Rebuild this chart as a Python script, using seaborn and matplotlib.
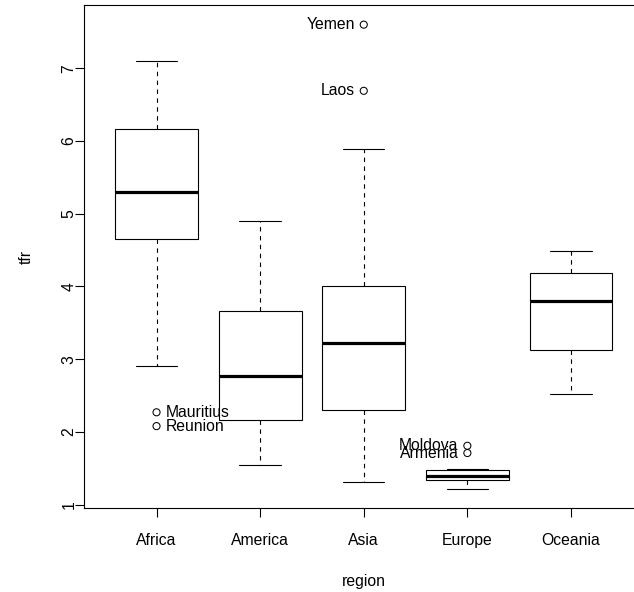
import numpy as np
import pandas as pd
import matplotlib
matplotlib.use("Agg")
import matplotlib.pyplot as plt
import seaborn as sns

regions = ["Africa", "America", "Asia", "Europe", "Oceania"]
# five-number summaries:
# lower whisker, Q1, median, Q3, upper whisker
africa = [2.91, 4.65, 5.30, 6.17, 7.10]
america = [1.55, 2.16, 2.77, 3.66, 4.90]
asia = [1.31, 2.30, 3.22, 4.00, 5.89]
europe = [1.22, 1.34, 1.39, 1.48, 1.49]
oceania = [2.52, 3.12, 3.80, 4.19, 4.49]

# labelled outliers
out_names = ["Mauritius", "Reunion", "Yemen", "Laos", "Moldova", "Armenia"]
out_region = ["Africa", "Africa", "Asia", "Asia", "Europe", "Europe"]
out_tfr = [2.27, 2.08, 7.60, 6.69, 1.81, 1.71]
out_side = ["right", "right", "left", "left", "left", "left"]

summ = {"Africa": africa, "America": america, "Asia": asia,
        "Europe": europe, "Oceania": oceania}
df = pd.DataFrame([{"region": r, "tfr": v} for r in regions for v in summ[r]])

sns.set_theme(style="ticks")
plt.rcParams["font.family"] = ["Liberation Sans", "DejaVu Sans"]
plt.rcParams["text.color"] = "black"
plt.rcParams["axes.labelcolor"] = "black"
plt.rcParams["xtick.color"] = "black"
plt.rcParams["ytick.color"] = "black"
fs = 11.3

fig = plt.figure(figsize=(6.34, 5.92), dpi=100)
# plot region runs past the right edge, as in the original (cropped) picture
ax = fig.add_axes([84 / 634, 1 - 508.3 / 592, (643.5 - 84) / 634, (508.3 - 5) / 592])

sns.boxplot(data=df, x="region", y="tfr", order=regions, whis=(0, 100),
            width=0.8, color="white", linecolor="black", linewidth=0.8,
            fliersize=0,
            medianprops=dict(linewidth=2.3, color="black"),
            whiskerprops=dict(linestyle=(0, (4, 4))),
            ax=ax)

pos = [regions.index(r) for r in out_region]
sns.scatterplot(x=pos, y=out_tfr, marker="o", s=26, facecolor="none",
                edgecolor="black", linewidth=0.75, ax=ax, zorder=5)
for p, v, name, side in zip(pos, out_tfr, out_names, out_side):
    if side == "left":
        ax.text(p - 0.085, v, name, ha="right", va="center", fontsize=fs, color="black")
    else:
        ax.text(p + 0.085, v, name, ha="left", va="center", fontsize=fs, color="black")

ax.set_xlim(-0.7, 4.7)
ax.set_ylim(0.95, 7.87)
ax.set_yticks(range(1, 8))
ax.set_xticks(range(len(regions)))
ax.set_xticklabels(regions)
ax.set_xlabel("region", fontsize=fs, labelpad=19)
ax.set_ylabel("tfr", fontsize=fs, labelpad=20)
ax.tick_params(axis="both", labelsize=fs, length=6.5, width=0.8, color="black",
               labelcolor="black")
ax.tick_params(axis="x", pad=11)
ax.tick_params(axis="y", pad=-1, labelrotation=90)
for lab in ax.get_yticklabels():
    lab.set_va("center")
for sp in ax.spines.values():
    sp.set_visible(True)
    sp.set_color("black")
    sp.set_linewidth(0.8)

fig.savefig("out.png", dpi=100)
